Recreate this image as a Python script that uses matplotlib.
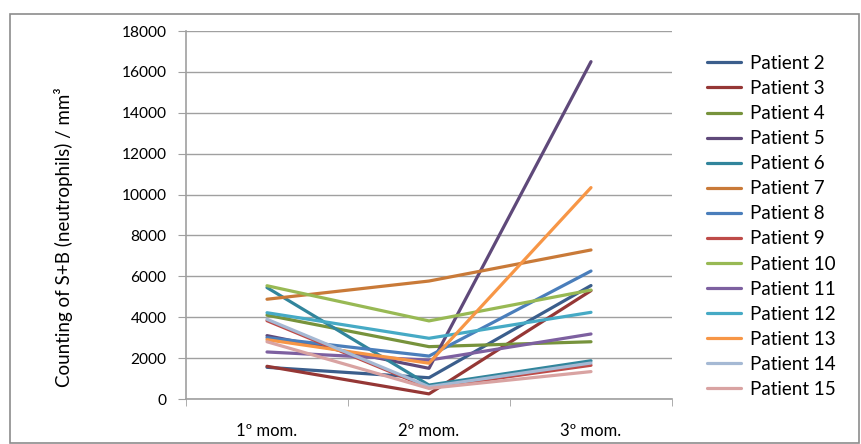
import matplotlib.pyplot as plt
from matplotlib.patches import Rectangle

plt.rcParams['font.family'] = ['Lato', 'DejaVu Sans']

moments = ['1º mom.', '2º mom.', '3º mom.']
patients = ['Patient 2', 'Patient 3', 'Patient 4', 'Patient 5', 'Patient 6',
            'Patient 7', 'Patient 8', 'Patient 9', 'Patient 10', 'Patient 11',
            'Patient 12', 'Patient 13', 'Patient 14', 'Patient 15']

# neutrophil counts (S+B) per mm3 at each moment
p2 = [1550, 1040, 5550]
p3 = [1600, 250, 5300]
p4 = [4100, 2560, 2800]
p5 = [3100, 1500, 16500]
p6 = [5450, 680, 1870]
p7 = [4880, 5770, 7290]
p8 = [3000, 2100, 6260]
p9 = [3830, 550, 1650]
p10 = [5540, 3820, 5330]
p11 = [2300, 1900, 3180]
p12 = [4220, 2970, 4240]
p13 = [2900, 1750, 10340]
p14 = [3900, 600, 1760]
p15 = [2800, 520, 1340]
series = [p2, p3, p4, p5, p6, p7, p8, p9, p10, p11, p12, p13, p14, p15]

colors = ['#3B5E8C', '#953735', '#77933C', '#5F497A', '#31859C', '#C97A38',
          '#4A7EBB', '#BE4B48', '#98B954', '#7D60A0', '#46AAC5', '#F79646',
          '#A5B9D4', '#D9A3A2']

fig = plt.figure(figsize=(8.62, 4.44), dpi=100)
ax = fig.add_axes([186 / 862, 45 / 444, 486 / 862, 368 / 444])

x = list(range(len(moments)))
for vals, name, c in zip(series, patients, colors):
    ax.plot(x, vals, color=c, lw=2.3, label=name, solid_capstyle='round')

ax.set_xlim(-0.5, 2.5)
ax.set_ylim(0, 18000)
ax.set_yticks(range(0, 18001, 2000))
ax.set_xticks(x)
ax.set_xticklabels(moments)
ax.set_xticks([-0.5, 0.5, 1.5, 2.5], minor=True)
ax.tick_params(axis='x', which='major', length=0, pad=17, labelsize=12)
ax.tick_params(axis='x', which='minor', length=5, color='#A0A0A0')
ax.tick_params(axis='y', length=6, color='#A0A0A0', labelsize=11.2, pad=8)

ax.grid(axis='y', color='#A0A0A0', lw=1)
ax.set_axisbelow(True)
for side in ['top', 'right']:
    ax.spines[side].set_visible(False)
for side in ['left', 'bottom']:
    ax.spines[side].set_color('#A0A0A0')
    ax.spines[side].set_linewidth(1.2)

ax.set_ylabel('Counting of S+B (neutrophils) / mm³', fontsize=13.5)
ax.yaxis.set_label_coords(-0.2325, 0.44)

ax.legend(loc='upper left', bbox_to_anchor=(707 / 862, 1 - 55 / 444),
          bbox_transform=fig.transFigure, frameon=False, fontsize=13.5,
          handlelength=1.8, handletextpad=0.5, labelspacing=0.43,
          borderpad=0, borderaxespad=0)

# outer chart border
fig.patches.append(Rectangle((10 / 862, 1 / 444), 849 / 862, 429 / 444,
                             transform=fig.transFigure, fill=False,
                             edgecolor='#8C8C8C', lw=1.2))

fig.savefig('out.png', dpi=100)
